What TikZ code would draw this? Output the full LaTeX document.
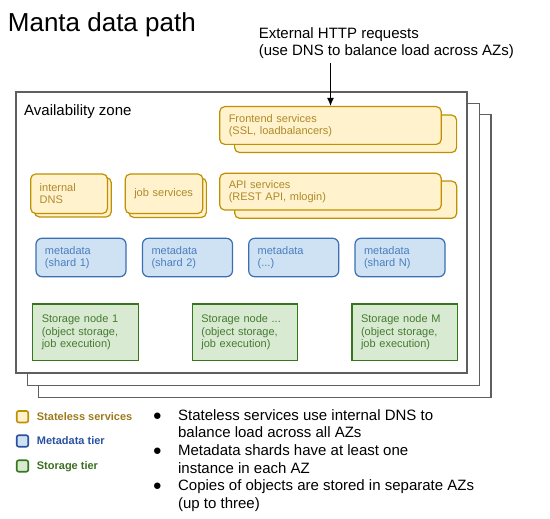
\documentclass[tikz,border=0pt]{standalone}
\usepackage{fontspec}
\setmainfont{Liberation Sans}
\usetikzlibrary{arrows.meta}
\definecolor{stlf}{HTML}{FFF2CC}
\definecolor{stld}{HTML}{BF9000}
\definecolor{stlt}{HTML}{AD8A2B}
\definecolor{stll}{HTML}{9C7A1C}
\definecolor{mdf}{HTML}{CFE2F3}
\definecolor{mdd}{HTML}{3C6EB4}
\definecolor{mdt}{HTML}{4A7EC0}
\definecolor{mdl}{HTML}{2A51A0}
\definecolor{stf}{HTML}{D9EAD3}
\definecolor{std}{HTML}{38761D}
\definecolor{stt}{HTML}{457A30}
\definecolor{stol}{HTML}{3B6E23}
\definecolor{azc}{HTML}{5F5F5F}
\begin{document}
\begin{tikzpicture}[x=1pt,y=-1pt,
  every node/.style={inner sep=0pt},
  az/.style={draw=azc, fill=white, line width=1.2pt},
  boxfont/.style={font=\fontsize{11}{12.5}\selectfont, align=left, inner xsep=9pt},
  stl/.style={draw=stld, fill=stlf, line width=1.2pt, rounded corners=5pt, text=stlt, boxfont},
  md/.style={draw=mdd, fill=mdf, line width=1.2pt, rounded corners=6pt, text=mdt, boxfont},
  sto/.style={draw=std, fill=stf, line width=1.2pt, text=stt, boxfont},
  legsq/.style={line width=1.6pt, rounded corners=2pt, minimum width=11.5pt, minimum height=11.5pt},
  legtext/.style={anchor=base west, font=\fontsize{11}{13}\selectfont\bfseries}]
\useasboundingbox (0,0) rectangle (550,519);

% title and external text
\node[anchor=base west, font=\fontsize{26}{30}\selectfont] (title) at (7.7,31.7) {Manta data path};
\node[anchor=north west, align=left, font=\fontsize{15}{17}\selectfont] (ext) at (258.6,27.4)
  {External HTTP requests\\(use DNS to balance load across AZs)};

% availability zones
\draw[az] (38.5,114.5) rectangle (491,397.5);
\draw[az] (27.5,103.5) rectangle (479.5,385.5);
\draw[az] (16,92) rectangle (467,373);
\node[anchor=base west, font=\fontsize{15}{17}\selectfont] (azlabel) at (24,115.7) {Availability zone};

% stateless services
\node[stl, minimum width=222pt, minimum height=37.5pt] (feback) at (345.6,133.8) {};
\node[stl, text width=203.5pt, minimum width=221.5pt, minimum height=37.8pt] (fe) at (330.5,125.5)
  {Frontend services\\(SSL, loadbalancers)};
\node[stl, minimum width=222pt, minimum height=37.3pt] (apiback) at (345.7,199.7) {};
\node[stl, text width=203.5pt, minimum width=221.5pt, minimum height=36.7pt] (api) at (330.5,191.7)
  {API services\\(REST API, mlogin)};
\node[stl, minimum width=76.8pt, minimum height=39.5pt] (dnsback) at (72.8,197.2) {};
\node[stl, text width=58.8pt, minimum width=76.8pt, minimum height=39.5pt] (dns) at (69.1,193.75)
  {internal\\DNS};
\node[stl, minimum width=77.5pt, minimum height=39.5pt] (jobback) at (167.6,197.7) {};
\node[stl, text width=59.5pt, minimum width=77.5pt, minimum height=39.5pt] (job) at (164.05,193.75)
  {job services};

% metadata
\node[md, text width=72pt, minimum width=90pt, minimum height=38.4pt] (md1) at (81,257.5) {metadata\\(shard 1)};
\node[md, text width=72pt, minimum width=90pt, minimum height=38.4pt] (md2) at (187.5,257.5) {metadata\\(shard 2)};
\node[md, text width=72pt, minimum width=90pt, minimum height=38.4pt] (md3) at (293.7,257.5) {metadata\\(...)};
\node[md, text width=72pt, minimum width=90pt, minimum height=38.4pt] (md4) at (400,257.5) {metadata\\(shard N)};

% storage
\node[sto, text width=87.5pt, minimum width=105.5pt, minimum height=56.7pt] (st1) at (85.5,332.35)
  {Storage node 1\\(object storage,\\job execution)};
\node[sto, text width=87.5pt, minimum width=105.5pt, minimum height=56.7pt] (st2) at (245.1,332.35)
  {Storage node ...\\(object storage,\\job execution)};
\node[sto, text width=87.5pt, minimum width=105.5pt, minimum height=56.7pt] (st3) at (404.8,332.35)
  {Storage node M\\(object storage,\\job execution)};

% arrow
\coordinate (arrtop) at (330.5,63);
\draw[line width=1.3pt, -{Latex[length=8pt,width=7pt]}] (arrtop) -- (arrtop |- fe.north);

% legend
\node[legsq, draw=stld, fill=stlf] (lg1) at (22.5,416.7) {};
\node[legsq, draw=mdl, fill=mdf] (lg2) at (22.5,441) {};
\node[legsq, draw=std, fill=stf] (lg3) at (22.5,466) {};
\node[legtext, text=stll] (lt1) at (36.7,420.6) {Stateless services};
\node[legtext, text=mdl] (lt2) at (36.7,444.9) {Metadata tier};
\node[legtext, text=stol] (lt3) at (36.7,469.9) {Storage tier};

% notes
\node[anchor=north west, align=left, font=\fontsize{15}{17.6}\selectfont] (notes) at (152.6,409.2)
  {\makebox[25.3pt][l]{●}Stateless services use internal DNS to\\
   \hspace*{25.3pt}balance load across all AZs\\
   \makebox[25.3pt][l]{●}Metadata shards have at least one\\
   \hspace*{25.3pt}instance in each AZ\\
   \makebox[25.3pt][l]{●}Copies of objects are stored in separate AZs\\
   \hspace*{25.3pt}(up to three)};
\end{tikzpicture}
\end{document}
